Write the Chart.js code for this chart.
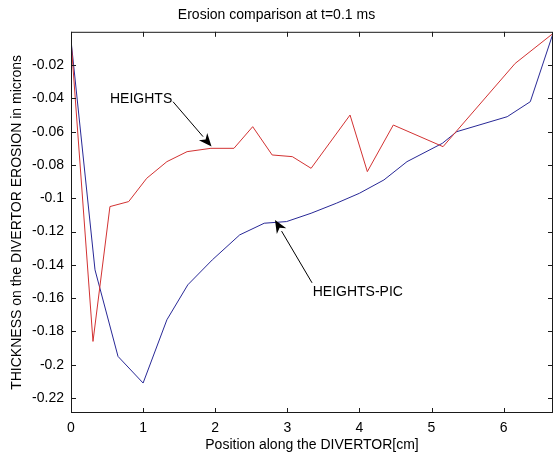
<!DOCTYPE html>
<html>
<head>
<meta charset="utf-8">
<script src="https://cdn.jsdelivr.net/npm/chart.js@4/dist/chart.umd.min.js"></script>
<style>
  html, body { margin: 0; padding: 0; background: #ffffff; }
  #wrap { width: 553px; height: 457px; }
</style>
</head>
<body>
<div id="wrap"><canvas id="c" width="553" height="457"></canvas></div>
<script>
// ---- data ----
const heightsX = [0, 0.305, 0.54, 0.80, 1.05, 1.33, 1.61, 1.94, 2.26, 2.52, 2.79, 3.07, 3.33, 3.87, 4.11, 4.47, 5.16, 6.16, 6.685];
const heightsY = [-0.005, -0.186, -0.105, -0.102, -0.088, -0.078, -0.072, -0.070, -0.070, -0.057, -0.074, -0.075, -0.082, -0.050, -0.084, -0.056, -0.069, -0.019, -0.001];

const picX = [0, 0.333, 0.652, 1.0, 1.33, 1.62, 1.96, 2.34, 2.68, 2.99, 3.33, 3.68, 4.0, 4.34, 4.66, 5.15, 5.35, 6.05, 6.37, 6.685];
const picY = [-0.005, -0.143, -0.195, -0.211, -0.173, -0.152, -0.137, -0.122, -0.115, -0.114, -0.109, -0.103, -0.097, -0.089, -0.078, -0.067, -0.060, -0.051, -0.042, -0.001];

const xTickValues = [0, 1, 2, 3, 4, 5, 6];
const yTickValues = [-0.22, -0.2, -0.18, -0.16, -0.14, -0.12, -0.1, -0.08, -0.06, -0.04, -0.02];

const chartTitle = 'Erosion comparison at t=0.1 ms';
const xAxisTitle = 'Position along the DIVERTOR[cm]';
const yAxisTitle = 'THICKNESS on the DIVERTOR EROSION in microns';

// annotation labels (text, anchor in data units) and arrows (tail -> tip, data units)
const annotations = [
  { text: 'HEIGHTS',     tx: 0.541, ty: -0.0404, x0: 1.415, y0: -0.0420, x1: 1.949, y1: -0.0689 },
  { text: 'HEIGHTS-PIC', tx: 3.352, ty: -0.1562, x0: 3.343, y0: -0.1508, x1: 2.829, y1: -0.1130 }
];

const toPoints = (xs, ys) => xs.map((x, i) => ({ x: x, y: ys[i] }));

Chart.defaults.font.family = '"Liberation Sans", Arial, sans-serif';
Chart.defaults.font.size = 14;
Chart.defaults.color = '#000000';

const boxAndTicks = {
  id: 'boxAndTicks',
  afterDraw(chart) {
    const { ctx, chartArea: a, scales: { x, y } } = chart;
    ctx.save();
    ctx.strokeStyle = '#1a1a1a';
    ctx.lineWidth = 1;
    ctx.strokeRect(a.left + 0.5, a.top + 0.5, a.right - a.left - 1, a.bottom - a.top - 1);
    const L = 5;
    ctx.beginPath();
    x.ticks.forEach(t => {
      const px = Math.round(x.getPixelForValue(t.value)) + 0.5;
      ctx.moveTo(px, a.bottom); ctx.lineTo(px, a.bottom - L);
      ctx.moveTo(px, a.top); ctx.lineTo(px, a.top + L);
    });
    y.ticks.forEach(t => {
      const py = Math.round(y.getPixelForValue(t.value)) + 0.5;
      ctx.moveTo(a.left, py); ctx.lineTo(a.left + L, py);
      ctx.moveTo(a.right, py); ctx.lineTo(a.right - L, py);
    });
    ctx.stroke();

    // annotations
    annotations.forEach(an => {
      ctx.fillStyle = '#000';
      ctx.textAlign = 'left';
      ctx.textBaseline = 'middle';
      ctx.font = '14px "Liberation Sans", Arial, sans-serif';
      ctx.fillText(an.text, x.getPixelForValue(an.tx), y.getPixelForValue(an.ty));
      const X0 = x.getPixelForValue(an.x0), Y0 = y.getPixelForValue(an.y0);
      const X1 = x.getPixelForValue(an.x1), Y1 = y.getPixelForValue(an.y1);
      const ang = Math.atan2(Y1 - Y0, X1 - X0);
      const hl = 13, hw = 5.5;
      const bx = X1 - hl * Math.cos(ang), by = Y1 - hl * Math.sin(ang);
      ctx.strokeStyle = '#000';
      ctx.lineWidth = 1;
      ctx.beginPath();
      ctx.moveTo(X0, Y0); ctx.lineTo(bx, by);
      ctx.stroke();
      const nx = -Math.sin(ang), ny = Math.cos(ang);
      const ix = X1 - hl * 0.7 * Math.cos(ang), iy = Y1 - hl * 0.7 * Math.sin(ang);
      ctx.beginPath();
      ctx.moveTo(X1, Y1);
      ctx.lineTo(bx + nx * hw, by + ny * hw);
      ctx.lineTo(ix, iy);
      ctx.lineTo(bx - nx * hw, by - ny * hw);
      ctx.closePath();
      ctx.fillStyle = '#000';
      ctx.fill();
    });
    ctx.restore();
  }
};

new Chart(document.getElementById('c'), {
  type: 'scatter',
  data: {
    datasets: [
      {
        label: 'HEIGHTS',
        data: toPoints(heightsX, heightsY),
        showLine: true,
        borderColor: 'rgb(210,50,50)',
        borderWidth: 1,
        pointRadius: 0,
        tension: 0
      },
      {
        label: 'HEIGHTS-PIC',
        data: toPoints(picX, picY),
        showLine: true,
        borderColor: 'rgb(40,40,150)',
        borderWidth: 1,
        pointRadius: 0,
        tension: 0
      }
    ]
  },
  options: {
    responsive: false,
    devicePixelRatio: 1,
    animation: false,
    layout: { padding: 0 },
    plugins: {
      legend: { display: false },
      tooltip: { enabled: false },
      title: {
        display: true,
        text: chartTitle,
        font: { size: 14, weight: 'normal' },
        color: '#000',
        padding: { top: 7, bottom: 8 }
      }
    },
    scales: {
      x: {
        type: 'linear',
        min: 0,
        max: 6.685,
        afterBuildTicks: s => { s.ticks = xTickValues.map(v => ({ value: v })); },
        afterFit: s => { s.height = 44; },
        grid: { display: false, drawTicks: false },
        border: { display: false },
        ticks: { padding: 7, callback: v => String(v), color: '#000', maxRotation: 0 },
        title: { display: true, text: xAxisTitle, color: '#000', font: { size: 14 }, padding: { top: 0, bottom: 3 } }
      },
      y: {
        type: 'linear',
        min: -0.229,
        max: 0,
        afterBuildTicks: s => { s.ticks = yTickValues.map(v => ({ value: v })); },
        afterFit: s => { s.width = 71; },
        grid: { display: false, drawTicks: false },
        border: { display: false },
        ticks: { padding: 7, callback: v => String(+Number(v).toFixed(2)), color: '#000' },
        title: { display: true, text: yAxisTitle, color: '#000', font: { size: 14 }, padding: { top: 9, bottom: 0 } }
      }
    }
  },
  plugins: [boxAndTicks]
});
</script>
</body>
</html>
